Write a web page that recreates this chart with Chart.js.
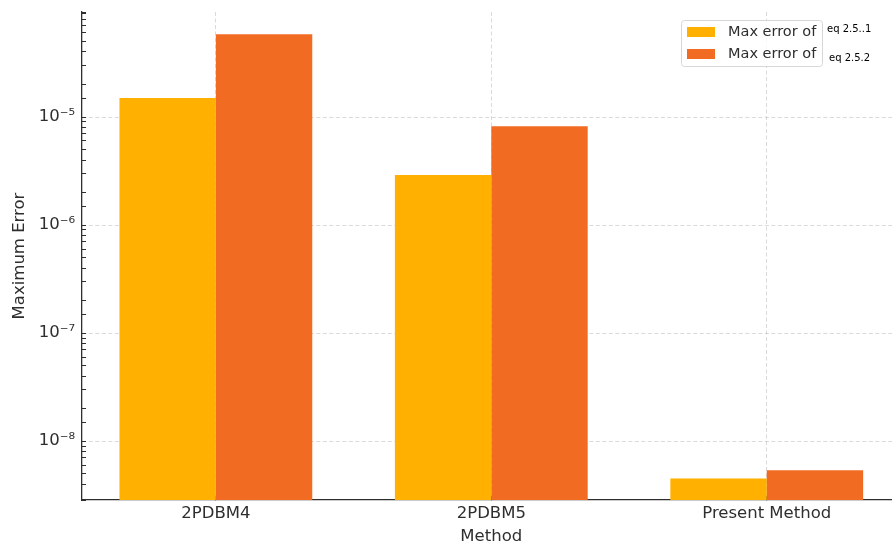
<!DOCTYPE html>
<html>
<head>
<meta charset="utf-8">
<script src="https://cdn.jsdelivr.net/npm/chart.js@4.4.1/dist/chart.umd.min.js"></script>
<style>
    html, body { margin: 0; padding: 0; overflow: hidden; background: #fff; }
    #wrap { width: 910px; height: 549px; }
</style>
</head>
<body>
<div id="wrap"><canvas id="chartError" width="910" height="549"></canvas></div>
<script>
// --- Data ---
const methods = ['2PDBM4', '2PDBM5', 'Present Method'];
const maxErrorEq1 = [1.5e-5, 2.9e-6, 4.5e-9];
const maxErrorEq2 = [5.85e-5, 8.2e-6, 5.36e-9];
const seriesLabels = ['Max error of', 'Max error of'];
const seriesNotes = ['eq 2.5..1', 'eq 2.5.2'];
const seriesColors = ['#FFB000', '#F26B23'];

const yMin = 2.85e-9;
const yMax = 9.38e-5;

const FONT = 'DejaVu Sans';
const TEXT = '#2e2e2e';
const GRID = 'rgba(176, 176, 176, 0.6)';

const SUP = { '-': '\u207B', '0': '\u2070', '1': '\u00B9', '2': '\u00B2', '3': '\u00B3', '4': '\u2074',
              '5': '\u2075', '6': '\u2076', '7': '\u2077', '8': '\u2078', '9': '\u2079' };

function isDecade(v) {
    const l = Math.log10(v);
    return Math.abs(l - Math.round(l)) < 1e-6;
}

function powLabel(v) {
    const e = String(Math.round(Math.log10(v)));
    return '10' + e.split('').map(c => SUP[c]).join('');
}

// legend box drawn inside the plot, upper right
const legendBox = {
    id: 'legendBox',
    afterDraw(chart) {
        const ctx = chart.ctx;
        ctx.save();
        ctx.beginPath();
        ctx.roundRect(681.5, 20.5, 141, 46, 3);
        ctx.fillStyle = 'rgba(255,255,255,0.85)';
        ctx.fill();
        ctx.strokeStyle = '#d6d6d6';
        ctx.lineWidth = 1;
        ctx.stroke();

        const rows = [32, 54];
        rows.forEach((y, i) => {
            ctx.fillStyle = seriesColors[i];
            ctx.fillRect(687, y - 5, 28, 10);
            ctx.fillStyle = TEXT;
            ctx.font = '14.5px "' + FONT + '"';
            ctx.textBaseline = 'middle';
            ctx.textAlign = 'left';
            ctx.fillText(seriesLabels[i], 728, y);
        });

        ctx.fillStyle = '#000';
        ctx.font = '10px "' + FONT + '"';
        ctx.fillText(seriesNotes[0], 827, 29);
        ctx.fillText(seriesNotes[1], 829, 58);
        ctx.restore();
    }
};

const ctxError = document.getElementById('chartError');
new Chart(ctxError, {
    type: 'bar',
    data: {
        datasets: [maxErrorEq1, maxErrorEq2].map((vals, k) => ({
            label: seriesLabels[k] + ' ' + seriesNotes[k],
            data: vals.map((v, i) => ({ x: i, y: v })),
            backgroundColor: seriesColors[k],
            borderWidth: 0,
            categoryPercentage: 0.7,
            barPercentage: 1.0
        }))
    },
    options: {
        responsive: false,
        animation: false,
        layout: { padding: { top: 12, right: 9.4, left: 0, bottom: 0 } },
        plugins: {
            legend: { display: false },
            tooltip: { enabled: false }
        },
        scales: {
            x: {
                type: 'linear',
                min: -0.486,
                max: 2.486,
                offset: false,
                z: 1,
                afterFit: (scale) => {
                    scale.height = 49;
                    scale.paddingLeft = 0;
                    scale.paddingRight = 0;
                },
                ticks: {
                    stepSize: 1,
                    includeBounds: false,
                    autoSkip: false,
                    maxRotation: 0,
                    padding: 8,
                    color: TEXT,
                    font: { family: FONT, size: 16.5 },
                    callback: (v) => Number.isInteger(v) ? methods[v] : ''
                },
                grid: {
                    offset: false,
                    color: (c) => (c.tick && Number.isInteger(c.tick.value)) ? GRID : 'rgba(0,0,0,0)',
                    lineWidth: 0.8,
                    tickColor: TEXT,
                    tickLength: -4,
                    tickWidth: 1
                },
                border: { color: TEXT, width: 1.3, dash: [4, 2.5] },
                title: {
                    display: true,
                    text: 'Method',
                    color: TEXT,
                    font: { family: FONT, size: 16.5 },
                    padding: { top: 0, bottom: 2 }
                }
            },
            y: {
                type: 'logarithmic',
                min: yMin,
                max: yMax,
                z: 1,
                afterFit: (scale) => {
                    scale.width = 82;
                    scale.paddingTop = 0;
                    scale.paddingBottom = 0;
                },
                ticks: {
                    autoSkip: false,
                    padding: 11,
                    color: TEXT,
                    font: { family: FONT, size: 16.5 },
                    callback: (v) => isDecade(v) ? powLabel(v) : ''
                },
                grid: {
                    color: (c) => (c.tick && isDecade(c.tick.value)) ? GRID : 'rgba(0,0,0,0)',
                    lineWidth: 0.8,
                    tickColor: TEXT,
                    tickLength: -4,
                    tickWidth: 1
                },
                border: { color: TEXT, width: 1.3, dash: [4, 2.5] },
                title: {
                    display: true,
                    text: 'Maximum Error',
                    color: TEXT,
                    font: { family: FONT, size: 16.5 },
                    padding: { top: 10, bottom: 0 }
                }
            }
        }
    },
    plugins: [legendBox]
});
</script>
</body>
</html>
